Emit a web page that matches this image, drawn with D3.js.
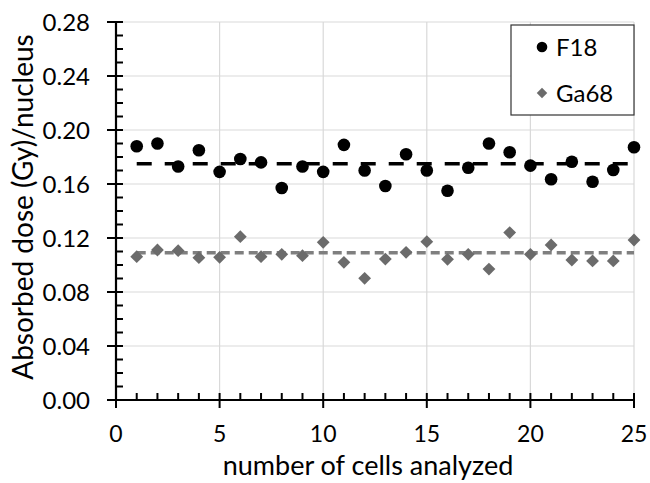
<!DOCTYPE html>
<html>
<head>
<meta charset="utf-8">
<script src="https://cdn.jsdelivr.net/npm/d3@7"></script>
<style>
  body { margin: 0; background: #fff; }
  text { font-family: Lato, "Open Sans", sans-serif; fill: #000; }
</style>
</head>
<body>
<script>
'use strict';

// cell index on the x axis
const cells = d3.range(1, 26);

// absorbed dose per nucleus (Gy)
const f18Values = [0.188, 0.190, 0.173, 0.185, 0.169, 0.1785, 0.176, 0.157, 0.173, 0.169,
  0.189, 0.170, 0.1585, 0.182, 0.170, 0.155, 0.172, 0.190, 0.1835, 0.1736,
  0.1635, 0.1765, 0.1617, 0.1704, 0.1872];
const ga68Values = [0.1062, 0.1111, 0.1106, 0.1054, 0.1057, 0.121, 0.1062, 0.1079, 0.1069, 0.1168,
  0.102, 0.0901, 0.1044, 0.1094, 0.1173, 0.1042, 0.1079, 0.097, 0.124, 0.1079,
  0.1148, 0.1037, 0.103, 0.103, 0.1185];

// mean lines
const f18Mean = 0.175;
const ga68Mean = 0.109;

// ticks
const xTicks = [0, 5, 10, 15, 20, 25];
const yTicks = [0, 0.04, 0.08, 0.12, 0.16, 0.20, 0.24, 0.28];
const seriesNames = ["F18", "Ga68"];

const width = 650, height = 483;
const svg = d3.select('body').append('svg')
  .attr('width', width)
  .attr('height', height);

const x = d3.scaleLinear().domain([0, 25]).range([116, 634]);
const y = d3.scaleLinear().domain([0, 0.28]).range([400, 22]);

// gridlines
svg.append('g').selectAll('line')
  .data(yTicks.slice(1))
  .enter().append('line')
  .attr('x1', x(0)).attr('x2', x(25))
  .attr('y1', d => y(d)).attr('y2', d => y(d))
  .attr('stroke', '#d9d9d9').attr('stroke-width', 1.2);

svg.append('g').selectAll('line')
  .data(xTicks.slice(1))
  .enter().append('line')
  .attr('x1', d => x(d)).attr('x2', d => x(d))
  .attr('y1', y(0)).attr('y2', y(0.28))
  .attr('stroke', '#d9d9d9').attr('stroke-width', 1.2);

// mean lines
function meanLine(v, color, dash, w) {
  svg.append('path')
    .datum([1, 25])
    .attr('fill', 'none')
    .attr('stroke', color)
    .attr('stroke-width', w)
    .attr('stroke-dasharray', dash)
    .attr('d', d3.line().x(d => x(d)).y(() => y(v)));
}
meanLine(f18Mean, '#000', '15,13', 3.5);
meanLine(ga68Mean, '#7f7f7f', '9,5', 3.5);

// points
svg.append('g').selectAll('circle')
  .data(cells)
  .enter().append('circle')
  .attr('cx', d => x(d))
  .attr('cy', (d, i) => y(f18Values[i]))
  .attr('r', 6.3)
  .attr('fill', '#000');

const diamond = d3.symbol().type(d3.symbolSquare).size(82);
svg.append('g').selectAll('path')
  .data(cells)
  .enter().append('path')
  .attr('d', diamond)
  .attr('transform', (d, i) => `translate(${x(d)},${y(ga68Values[i])}) rotate(45)`)
  .attr('fill', '#6b6b6b');

// axes
const xAxis = svg.append('g');
xAxis.append('line')
  .attr('x1', x(0)).attr('x2', x(25))
  .attr('y1', y(0)).attr('y2', y(0))
  .attr('stroke', '#000').attr('stroke-width', 2.2);
xAxis.selectAll('.minor')
  .data(d3.range(0, 26))
  .enter().append('line')
  .attr('x1', d => x(d)).attr('x2', d => x(d))
  .attr('y1', d => d % 5 === 0 ? y(0) + 8 : y(0))
  .attr('y2', y(0) - 7)
  .attr('stroke', '#000').attr('stroke-width', 2);
xAxis.selectAll('text')
  .data(xTicks)
  .enter().append('text')
  .attr('x', d => x(d))
  .attr('y', 442)
  .attr('text-anchor', 'middle')
  .style('font-size', '23px')
  .text(d => d);

const yAxis = svg.append('g');
yAxis.append('line')
  .attr('x1', x(0)).attr('x2', x(0))
  .attr('y1', y(0)).attr('y2', y(0.28))
  .attr('stroke', '#000').attr('stroke-width', 2.2);
yAxis.selectAll('.minor')
  .data(d3.range(0, 29))
  .enter().append('line')
  .attr('x1', d => d % 4 === 0 ? x(0) - 9 : x(0))
  .attr('x2', x(0) + 7)
  .attr('y1', d => y(d / 100)).attr('y2', d => y(d / 100))
  .attr('stroke', '#000').attr('stroke-width', 2);
yAxis.selectAll('text')
  .data(yTicks)
  .enter().append('text')
  .attr('x', 90)
  .attr('y', d => y(d))
  .attr('dy', '0.36em')
  .attr('text-anchor', 'end')
  .style('font-size', '24px')
  .text(d => d.toFixed(2));

// axis titles
svg.append('text')
  .attr('x', x(12.5) - 7)
  .attr('y', 475)
  .attr('text-anchor', 'middle')
  .style('font-size', '27px')
  .text('number of cells analyzed');

svg.append('text')
  .attr('transform', 'translate(33, 207) rotate(-90)')
  .attr('text-anchor', 'middle')
  .style('font-size', '28px')
  .text('Absorbed dose (Gy)/nucleus');

// legend
const legend = svg.append('g');
legend.append('rect')
  .attr('x', 511).attr('y', 25)
  .attr('width', 123).attr('height', 90)
  .attr('fill', '#fff')
  .attr('stroke', '#333').attr('stroke-width', 1.2);
legend.append('circle')
  .attr('cx', 542).attr('cy', 47).attr('r', 5.3).attr('fill', '#000');
legend.append('path')
  .attr('d', d3.symbol().type(d3.symbolSquare).size(55))
  .attr('transform', 'translate(542,93) rotate(45)')
  .attr('fill', '#6b6b6b');
legend.selectAll('text')
  .data(seriesNames)
  .enter().append('text')
  .attr('x', 556)
  .attr('y', (d, i) => i === 0 ? 47 : 93)
  .attr('dy', '0.36em')
  .style('font-size', '24px')
  .text(d => d);
</script>
</body>
</html>
